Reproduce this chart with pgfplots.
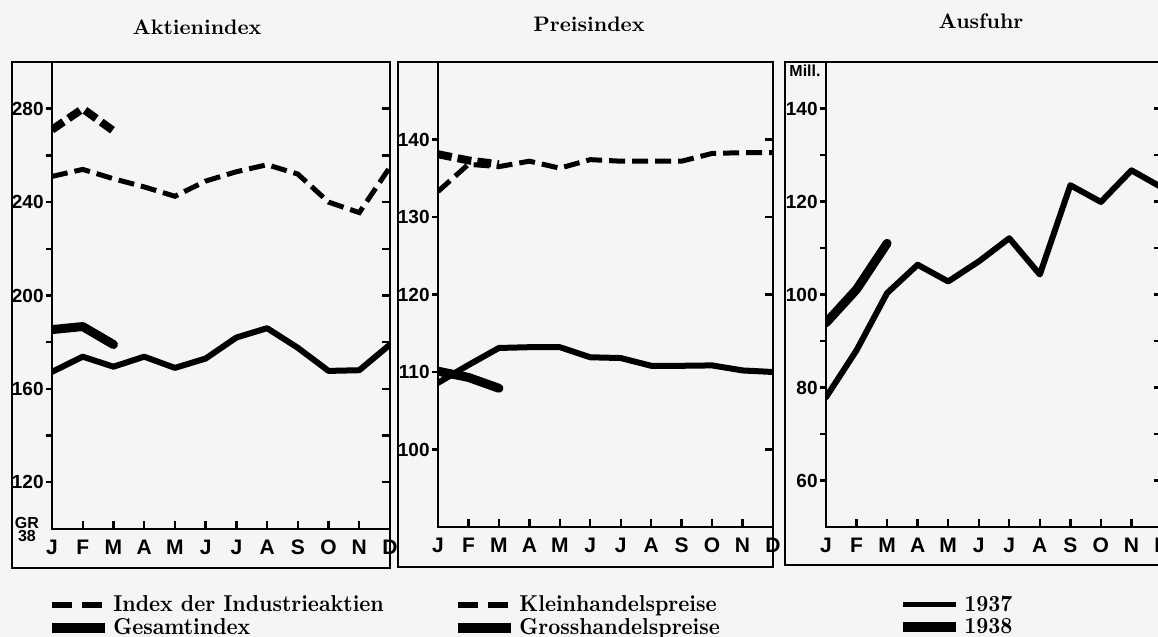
\documentclass[border=0pt]{standalone}
\usepackage{fontspec}
\usepackage{pgfplots}
\pgfplotsset{compat=1.18}
\newfontfamily\tickfont{Liberation Sans}
\newfontfamily\legfont{lmroman10-bold}[Extension=.otf, FakeStretch=0.91]
\pgfplotsset{
  base/.style={scale only axis, xmin=0, xmax=11, /pgf/number format/assume math mode=true},
  mainax/.style={base, axis line style={line width=1.4pt}, tick style={line width=1.2pt, black},
    major tick length=4pt, minor tick length=4pt, tick align=inside,
    xtick={0,...,11}, xticklabels={J,F,M,A,M,J,J,A,S,O,N,D}, xtick pos=bottom, ytick pos=right, yticklabel={\relax},
    xticklabel style={font=\tickfont\bfseries\fontsize{10.5}{12}\selectfont, yshift=-2pt},
    legend style={draw=none, fill=none, anchor=north west, font=\legfont\fontsize{11.5}{12}\selectfont,
      row sep=-1pt, inner sep=0pt, nodes={inner sep=1.5pt}},
    legend cell align=left,
    legend image code/.code={\draw[##1] (0pt,0pt) -- (26.5pt,0pt);}},
  leftax/.style={base, axis line style={draw=none}, xtick=\empty, ytick pos=left, tick align=outside,
    tick style={line width=1.2pt, black}, major tick length=3pt, minor tick length=3pt,
    yticklabel style={font=\tickfont\bfseries\fontsize{9.5}{11}\selectfont, inner sep=1pt}},
  l37/.style={line width=3pt, line join=round, line cap=round},
  l38/.style={line width=4.5pt, line join=round, line cap=round},
  d37/.style={line width=2.5pt, dash pattern=on 8pt off 3.5pt},
  d38/.style={line width=4pt, dash pattern=on 7pt off 3pt},
}
\begin{document}
\begin{tikzpicture}
\useasboundingbox (0,0) rectangle (579pt,318.5pt);
\fill[black!4] (0,0) rectangle (579pt,318.5pt);
% outer frames
\draw[line width=1.4pt] (6pt,34.5pt) rectangle (195pt,287.5pt);
\draw[line width=1.4pt] (199pt,35pt) rectangle (386.5pt,287.5pt);
\draw[line width=1.4pt] (392.5pt,36pt) rectangle (590pt,287.5pt);
% titles
\node[anchor=base, font=\bfseries\fontsize{10.5}{12}\selectfont] at (98.5pt,301pt) {Aktienindex};
\node[anchor=base, font=\bfseries\fontsize{10.5}{12}\selectfont] at (294.5pt,302.5pt) {Preisindex};
\node[anchor=base, font=\bfseries\fontsize{10.5}{12}\selectfont] at (490.5pt,304pt) {Ausfuhr};
\node[font=\tickfont\bfseries\fontsize{8}{8}\selectfont, align=center, inner sep=0pt] at (13.5pt,53.5pt) {GR\\[-1.5pt]38};
\node[font=\tickfont\bfseries\fontsize{8}{9}\selectfont, inner sep=0pt] at (402.5pt,283pt) {Mill.};

% ---------- Panel 1: Aktienindex ----------
\begin{axis}[leftax, at={(26pt,54pt)}, anchor=south west, width=169pt, height=233.5pt,
  ymin=100, ymax=300, ytick={120,160,...,280}, minor ytick={140,180,220,260}]
\end{axis}
\begin{axis}[mainax, at={(26pt,54pt)}, anchor=south west, width=169pt, height=233.5pt,
  ymin=100, ymax=300, ytick={120,160,...,280}, minor ytick={140,180,220,260},
  legend style={at={(axis description cs:-0.015,-0.135)}}]
\addplot[d37, forget plot] coordinates {(0,251) (1,254) (2,250) (3,246.5) (4,242.5) (5,249) (6,253) (7,256) (8,252) (9,240) (10,235.5) (11,255)};
\addplot[d38, forget plot] coordinates {(0,271) (1,280) (2,270.5)};
\addplot[l37, forget plot] coordinates {(0,167.3) (1,173.8) (2,169.5) (3,173.8) (4,169) (5,173) (6,182) (7,186) (8,177.6) (9,167.7) (10,168) (11,179)};
\addplot[l38, forget plot] coordinates {(0,185.4) (1,186.7) (2,179)};
\addlegendimage{line width=3pt, dash pattern=on 10pt off 5pt}
\addlegendentry{Index der Industrieaktien}
\addlegendimage{line width=5pt}
\addlegendentry{Gesamtindex}
\end{axis}

% ---------- Panel 2: Preisindex ----------
\begin{axis}[leftax, at={(219pt,55pt)}, anchor=south west, width=167.5pt, height=232.5pt,
  ymin=90, ymax=150, ytick={100,110,...,140}]
\end{axis}
\begin{axis}[mainax, at={(219pt,55pt)}, anchor=south west, width=167.5pt, height=232.5pt,
  ymin=90, ymax=150, ytick={100,110,...,140},
  legend style={at={(axis description cs:0.045,-0.14)}}]
\addplot[d37, forget plot] coordinates {(0,133.3) (1,136.8) (2,136.5) (3,137.2) (4,136.3) (5,137.4) (6,137.2) (7,137.2) (8,137.2) (9,138.2) (10,138.3) (11,138.3)};
\addplot[d38, forget plot] coordinates {(0,138.1) (1,137.3) (2,136.8)};
\addplot[l37, forget plot] coordinates {(0,108.6) (1,110.9) (2,113.1) (3,113.2) (4,113.2) (5,111.9) (6,111.8) (7,110.8) (8,110.8) (9,110.85) (10,110.2) (11,110)};
\addplot[l38, forget plot] coordinates {(0,110.1) (1,109.3) (2,107.9)};
\addlegendimage{line width=3pt, dash pattern=on 10pt off 5pt}
\addlegendentry{Kleinhandelspreise}
\addlegendimage{line width=5pt}
\addlegendentry{Grosshandelspreise}
\end{axis}

% ---------- Panel 3: Ausfuhr ----------
\begin{axis}[leftax, at={(413pt,55pt)}, anchor=south west, width=168pt, height=232.5pt,
  ymin=50, ymax=150, ytick={60,80,...,140}, minor ytick={70,90,110,130}]
\end{axis}
\begin{axis}[mainax, at={(413pt,55pt)}, anchor=south west, width=168pt, height=232.5pt,
  ymin=50, ymax=150, ytick={60,80,...,140}, minor ytick={70,90,110,130},
  legend style={at={(axis description cs:0.214,-0.14)}}]
\addplot[l37, forget plot] coordinates {(0,77.9) (1,88) (2,100.3) (3,106.4) (4,102.8) (5,107.1) (6,112.1) (7,104.3) (8,123.5) (9,119.9) (10,126.7) (11,123)};
\addplot[l38, forget plot] coordinates {(0,93.9) (1,101.1) (2,111)};
\addlegendimage{line width=2.5pt}
\addlegendentry{1937}
\addlegendimage{line width=5pt}
\addlegendentry{1938}
\end{axis}
\end{tikzpicture}
\end{document}
